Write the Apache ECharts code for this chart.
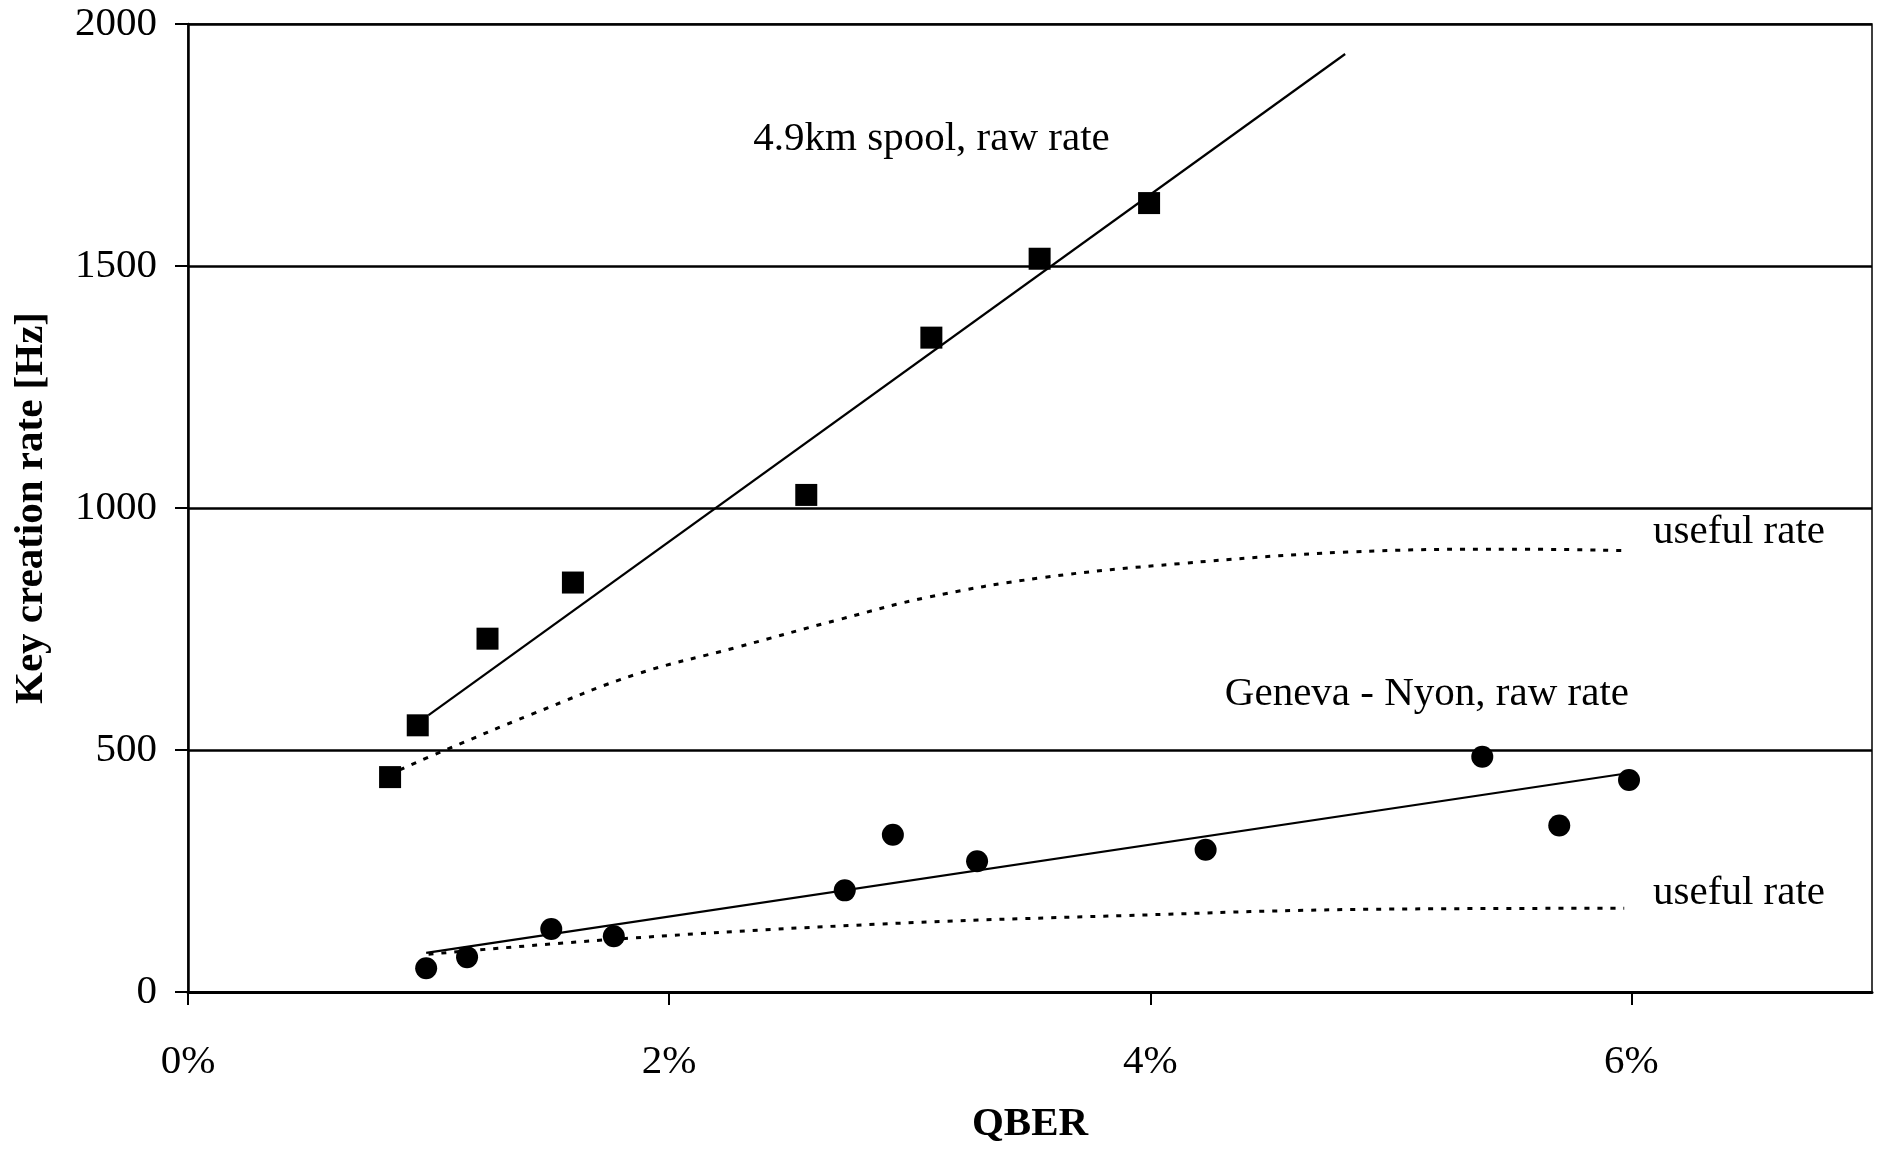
<!DOCTYPE html>
<html>
<head>
<meta charset="utf-8">
<script src="https://cdn.jsdelivr.net/npm/echarts@6/dist/echarts.min.js"></script>
<style>
    html, body { margin: 0; padding: 0; background: #fff; }
    #chart { width: 1877px; height: 1150px; }
</style>
</head>
<body>
<div id="chart"></div>
<script>
    // 4.9 km spool, raw rate (squares)
    var spoolQber = [0.84, 0.955, 1.245, 1.60, 2.57, 3.09, 3.54, 3.995];
    var spoolRate = [444, 551, 730, 846, 1027, 1352, 1515, 1630];
    // linear fit through the spool points
    var spoolFitQber = [1.0, 4.81];
    var spoolFitRate = [572, 1938];
    // spool useful rate (dotted)
    var spoolUsefulQber = [0.88, 1.07, 1.43, 1.86, 2.28, 2.71, 3.07, 3.55, 4.12, 4.82, 5.5, 5.98];
    var spoolUsefulRate = [459, 500, 574, 656, 712, 770, 815, 856, 885, 909, 915, 912];

    // Geneva - Nyon, raw rate (circles)
    var genevaQber = [0.99, 1.16, 1.51, 1.77, 2.73, 2.93, 3.28, 4.23, 5.38, 5.70, 5.99];
    var genevaRate = [49, 72, 130, 115, 210, 325, 270, 294, 486, 344, 438];
    var genevaFitQber = [0.99, 5.97];
    var genevaFitRate = [81, 451];
    var genevaUsefulQber = [1.0, 1.83, 2.86, 3.90, 4.93, 5.97];
    var genevaUsefulRate = [78, 111, 140, 158, 171, 173];

    var xTicks = [0, 2, 4, 6];

    // text labels: [text, qber, rate] (left edge, vertical middle)
    var notes = [
        ['4.9km spool, raw rate', 2.35, 1761],
        ['useful rate', 6.09, 949],
        ['Geneva - Nyon, raw rate', 4.31, 615],
        ['useful rate', 6.09, 204]
    ];

    function zip(xs, ys) {
        return xs.map(function (x, i) { return [x, ys[i]]; });
    }

    var font = 'Liberation Serif';
    var fs = 41;
    var myChart = echarts.init(document.getElementById('chart'));

    var option = {
        animation: false,
        textStyle: { fontFamily: font },
        grid: {
            left: 188,
            right: 5,
            top: 24,
            bottom: 154,
            show: true,
            borderColor: '#000',
            borderWidth: 1.5
        },
        xAxis: {
            type: 'value',
            min: 0,
            max: 7,
            name: 'QBER',
            nameLocation: 'middle',
            nameGap: 112,
            nameTextStyle: { fontFamily: font, fontSize: fs, fontWeight: 'bold', color: '#000' },
            axisLine: { lineStyle: { color: '#000', width: 3 } },
            axisTick: { show: true, length: 13, lineStyle: { color: '#000', width: 2 }, customValues: xTicks },
            axisLabel: {
                margin: 50,
                fontFamily: font,
                fontSize: fs,
                color: '#000',
                customValues: xTicks,
                formatter: function (v) { return v + '%'; }
            },
            splitLine: { show: false }
        },
        yAxis: {
            type: 'value',
            min: 0,
            max: 2000,
            interval: 500,
            name: 'Key creation rate [Hz]',
            nameLocation: 'middle',
            nameGap: 136,
            nameTextStyle: { fontFamily: font, fontSize: fs, fontWeight: 'bold', color: '#000' },
            axisLine: { show: true, lineStyle: { color: '#000', width: 2.5 } },
            axisTick: { show: true, length: 13, lineStyle: { color: '#000', width: 2 } },
            axisLabel: {
                margin: 31,
                fontFamily: font,
                fontSize: fs,
                color: '#000',
                formatter: function (v) { return String(v); }
            },
            splitLine: { show: true, lineStyle: { color: '#000', width: 2.5 } }
        },
        series: [
            {
                name: 'spool fit',
                type: 'line',
                data: zip(spoolFitQber, spoolFitRate),
                symbol: 'none',
                lineStyle: { color: '#000', width: 2.2 },
                z: 2
            },
            {
                name: 'spool useful',
                type: 'line',
                data: zip(spoolUsefulQber, spoolUsefulRate),
                symbol: 'none',
                smooth: 0.4,
                lineStyle: { color: '#000', width: 3, type: [5, 8] },
                z: 2
            },
            {
                name: 'spool raw',
                type: 'scatter',
                data: zip(spoolQber, spoolRate),
                symbol: 'rect',
                symbolSize: 22,
                itemStyle: { color: '#000', opacity: 1 },
                z: 3
            },
            {
                name: 'geneva fit',
                type: 'line',
                data: zip(genevaFitQber, genevaFitRate),
                symbol: 'none',
                lineStyle: { color: '#000', width: 2.2 },
                z: 2
            },
            {
                name: 'geneva useful',
                type: 'line',
                data: zip(genevaUsefulQber, genevaUsefulRate),
                symbol: 'none',
                smooth: 0.4,
                lineStyle: { color: '#000', width: 3, type: [5, 8] },
                z: 2
            },
            {
                name: 'geneva raw',
                type: 'scatter',
                data: zip(genevaQber, genevaRate),
                symbol: 'circle',
                symbolSize: 22,
                itemStyle: { color: '#000', opacity: 1 },
                z: 3
            }
        ]
    };
    myChart.setOption(option);

    // place the text notes from data coordinates
    var graphics = notes.map(function (n) {
        var p = myChart.convertToPixel({ gridIndex: 0 }, [n[1], n[2]]);
        return {
            type: 'text',
            x: p[0],
            y: p[1],
            style: {
                text: n[0],
                fontFamily: font,
                fontSize: fs,
                fill: '#000',
                textAlign: 'left',
                textVerticalAlign: 'middle'
            }
        };
    });
    myChart.setOption({ graphic: graphics });

    window.onresize = function () {
        myChart.resize();
    };
</script>
</body>
</html>
